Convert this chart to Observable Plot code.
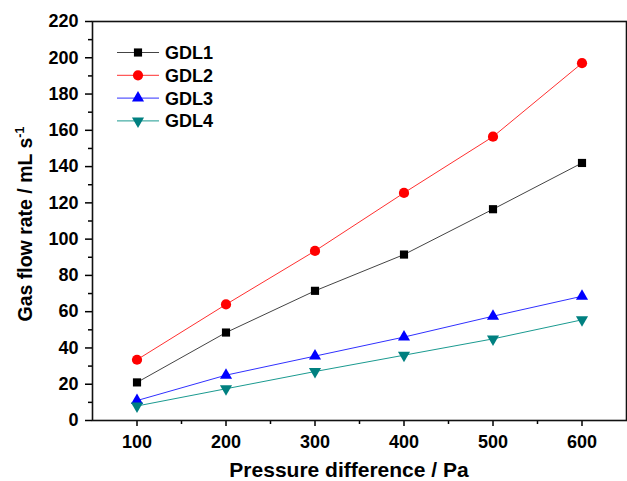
<!DOCTYPE html>
<html>
<head>
<meta charset="utf-8">
<script src="https://cdn.jsdelivr.net/npm/d3@7"></script>
<script src="https://cdn.jsdelivr.net/npm/@observablehq/plot@0.6"></script>
<style>
  html, body { margin: 0; padding: 0; background: #fff; }
  #chart { position: relative; width: 627px; height: 481px; }
  svg { font-family: "Liberation Sans", Arial, sans-serif; }
</style>
</head>
<body>
<div id="chart"></div>
<script>
const pressure = [100, 200, 300, 400, 500, 600];
const seriesNames = ["GDL1", "GDL2", "GDL3", "GDL4"];
const gdl1 = [21, 48.5, 71.5, 91.5, 116.5, 142];
const gdl2 = [33.5, 64, 93.5, 125.5, 156.5, 197];
const gdl3 = [11, 25, 35.5, 46, 57.5, 68.5];
const gdl4 = [8, 17.5, 27, 36, 45, 55.5];
const xMajorTicks = [100, 200, 300, 400, 500, 600];
const xMinorTicks = [150, 250, 350, 450, 550];
const yMajorTicks = [0, 20, 40, 60, 80, 100, 120, 140, 160, 180, 200, 220];
const yMinorTicks = [10, 30, 50, 70, 90, 110, 130, 150, 170, 190, 210];

const lineColors = ["#444444", "#ff3030", "#3030ff", "#1a9a90"];
const markColors = ["#000000", "#ff0000", "#0000ff", "#008080"];

const triangleDown = {
  draw(ctx, size) {
    const s = Math.sqrt(size / (Math.sqrt(3) / 4));
    const h = s * Math.sqrt(3) / 2;
    ctx.moveTo(0, h * 2 / 3);
    ctx.lineTo(s / 2, -h / 3);
    ctx.lineTo(-s / 2, -h / 3);
    ctx.closePath();
  }
};
const triangleUp = {
  draw(ctx, size) {
    const s = Math.sqrt(size / (Math.sqrt(3) / 4));
    const h = s * Math.sqrt(3) / 2;
    ctx.moveTo(0, -h * 2 / 3);
    ctx.lineTo(s / 2, h / 3);
    ctx.lineTo(-s / 2, h / 3);
    ctx.closePath();
  }
};
const symbols = [d3.symbolSquare, d3.symbolCircle, triangleUp, triangleDown];
const radii = [4.6, 5.1, 4.5, 4.5];

const allSeries = [gdl1, gdl2, gdl3, gdl4];
const rows = [];
allSeries.forEach((vals, i) => vals.forEach((v, j) => rows.push({series: seriesNames[i], idx: i, x: pressure[j], y: v})));

const marks = [];
allSeries.forEach((vals, i) => {
  const data = rows.filter(d => d.idx === i);
  marks.push(Plot.line(data, {x: "x", y: "y", stroke: lineColors[i], strokeWidth: 1}));
});
allSeries.forEach((vals, i) => {
  const data = rows.filter(d => d.idx === i);
  marks.push(Plot.dot(data, {x: "x", y: "y", fill: markColors[i], stroke: "none", symbol: () => symbols[i], r: radii[i]}));
});

const plot = Plot.plot({
  width: 627,
  height: 481,
  marginLeft: 92,
  marginTop: 21,
  marginRight: 1,
  marginBottom: 61,
  style: {fontFamily: "Liberation Sans, Arial, sans-serif", fontSize: "18px", fontWeight: "bold", color: "#000", background: "#fff"},
  x: {domain: [50, 650]},
  y: {domain: [0, 220]},
  symbol: {type: "identity"},
  marks: [
    ...marks,
    Plot.axisX({ticks: xMajorTicks, tickSize: 6, tickPadding: 9, label: null, fontSize: 18, fontWeight: "bold", strokeWidth: 1.5}),
    Plot.axisX({ticks: xMinorTicks, tickSize: 4, text: null, label: null, strokeWidth: 1.5}),
    Plot.axisY({ticks: yMajorTicks, tickSize: 7, tickPadding: 7, label: null, fontSize: 18, fontWeight: "bold", strokeWidth: 1.5}),
    Plot.axisY({ticks: yMinorTicks, tickSize: 4, text: null, label: null, strokeWidth: 1.5}),
    Plot.frame({stroke: "#111", strokeWidth: 1.6})
  ]
});
document.getElementById("chart").appendChild(plot);

const svg = d3.select(plot);
// Axis labels
svg.append("text")
  .attr("x", 349)
  .attr("y", 477)
  .attr("text-anchor", "middle")
  .style("font-size", "21px").style("font-weight", "bold")
  .text("Pressure difference / Pa");
const yl = svg.append("text")
  .attr("transform", "translate(32,224) rotate(-90)")
  .attr("text-anchor", "middle")
  .style("font-size", "19.5px").style("font-weight", "bold");
yl.append("tspan").text("Gas flow rate / mL s");
yl.append("tspan").attr("dy", -8).style("font-size", "12.5px").text("-1");

// Legend
const lg = svg.append("g");
seriesNames.forEach((name, i) => {
  const cy = 52.5 + i * 22.8;
  lg.append("line").attr("x1", 117).attr("x2", 159).attr("y1", cy).attr("y2", cy)
    .attr("stroke", lineColors[i]).attr("stroke-width", 1);
  lg.append("path").attr("transform", `translate(138,${cy})`)
    .attr("d", d3.symbol(symbols[i], radii[i] * radii[i] * Math.PI)())
    .attr("fill", markColors[i]);
  lg.append("text").attr("x", 165).attr("y", cy).attr("dy", "0.36em")
    .attr("text-anchor", "start")
    .style("font-size", "18px").style("font-weight", "bold").text(name);
});
</script>
</body>
</html>
